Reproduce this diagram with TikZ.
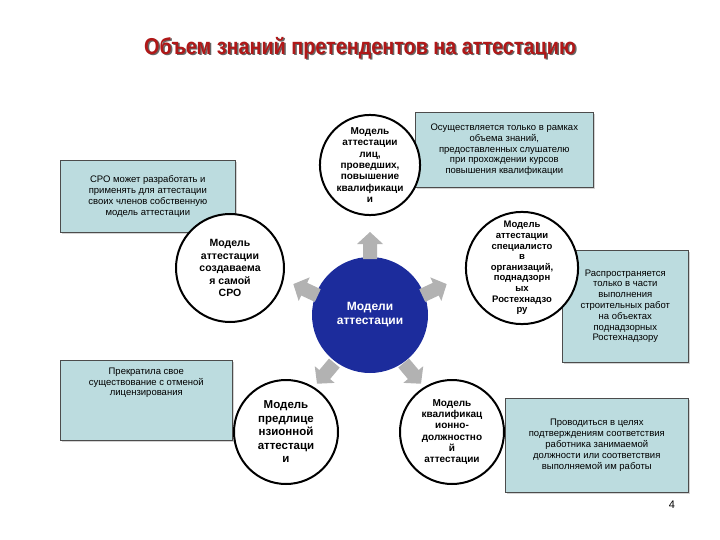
\documentclass[tikz,border=0pt]{standalone}
\usepackage{fontspec}
\setmainfont{Liberation Sans}
\usetikzlibrary{shadows}
\definecolor{boxc}{HTML}{BCDCDF}
\definecolor{ttl}{HTML}{B01818}
\definecolor{ctr}{HTML}{1C2C9C}
\begin{document}
\begin{tikzpicture}[x=1pt,y=-1pt,
  infobox/.style={draw=black!70,fill=boxc,line width=0.6pt,font=\fontsize{9.5}{10.8}\selectfont,align=center,inner sep=2pt,drop shadow={opacity=0.35,shadow xshift=1.5pt,shadow yshift=-1.5pt}},
  model/.style={circle,draw=black,line width=2pt,fill=white,font=\bfseries\fontsize{10}{11.3}\selectfont,align=center,inner sep=0pt},
  blockarrow/.pic={\fill[black!30] (-13,-7) -- (2,-7) -- (2,-13) -- (14,0) -- (2,13) -- (2,7) -- (-13,7) -- cycle;}]
\useasboundingbox (0,0) rectangle (720,540);
\node[font=\bfseries\fontsize{23}{25}\selectfont,text=black!60,xscale=0.86] at (361.5,49.5) {Объем знаний претендентов на аттестацию};
\node (title) [font=\bfseries\fontsize{23}{25}\selectfont,text=ttl,xscale=0.86] at (360,48) {Объем знаний претендентов на аттестацию};
% boxes
\node (b1) [infobox,minimum width=175pt,minimum height=72pt,anchor=north west] at (60,160) {СРО может разработать и\\применять для аттестации\\своих членов собственную\\модель аттестации};
\node (b2) [infobox,minimum width=178pt,minimum height=75pt,anchor=north west] at (415,112) {Осуществляется только в рамках\\объема знаний,\\предоставленных слушателю\\при прохождении курсов\\повышения квалификации};
\node (b3) [infobox,minimum width=126pt,minimum height=112pt,anchor=north west] at (562,250) {Распространяется\\только в части\\выполнения\\строительных работ\\на объектах\\поднадзорных\\Ростехнадзору};
\node (b4) [infobox,minimum width=172pt,minimum height=80pt,anchor=north west] at (60,360) {Прекратила свое\\существование с отменой\\лицензирования\\[26pt]};
\node (b5) [infobox,minimum width=183pt,minimum height=94pt,anchor=north west] at (505,398) {Проводиться в целях\\подтверждениям соответствия\\работника занимаемой\\должности или соответствия\\выполняемой им работы};
% center
\node (c) [circle,fill=ctr,minimum size=116pt,text=white,font=\bfseries\fontsize{12}{14}\selectfont,align=center] at (370,315) {Модели\\аттестации};
% circles
\node (m1) [model,minimum size=96pt] at (370,165) {Модель\\аттестации\\лиц,\\проведших,\\повышение\\квалификаци\\и};
\node (m2) [model,minimum size=104pt,font=\bfseries\fontsize{9.5}{10.6}\selectfont] at (522,268) {Модель\\аттестации\\специалисто\\в\\организаций,\\поднадзорн\\ых\\Ростехнадзо\\ру};
\node (m3) [model,minimum size=108pt,font=\bfseries\fontsize{10.5}{12.5}\selectfont] at (230,268) {Модель\\аттестации\\создаваема\\я самой\\СРО};
\node (m4) [model,minimum size=104pt,font=\bfseries\fontsize{11.5}{13.5}\selectfont] at (286,432) {Модель\\предлице\\нзионной\\аттестаци\\и};
\node (m5) [model,minimum size=104pt] at (452,432) {Модель\\квалификац\\ионно-\\должностно\\й\\аттестации};
% arrows
\pic at (370,246) [rotate=90] {blockarrow};
\pic at (306,290) [rotate=155] {blockarrow};
\pic at (434,290) [rotate=25] {blockarrow};
\pic at (326,373) [rotate=-130] {blockarrow};
\pic at (412,373) [rotate=-50] {blockarrow};
\node (pg) [font=\fontsize{11}{12}\selectfont] at (672,505) {4};
\end{tikzpicture}
\end{document}
